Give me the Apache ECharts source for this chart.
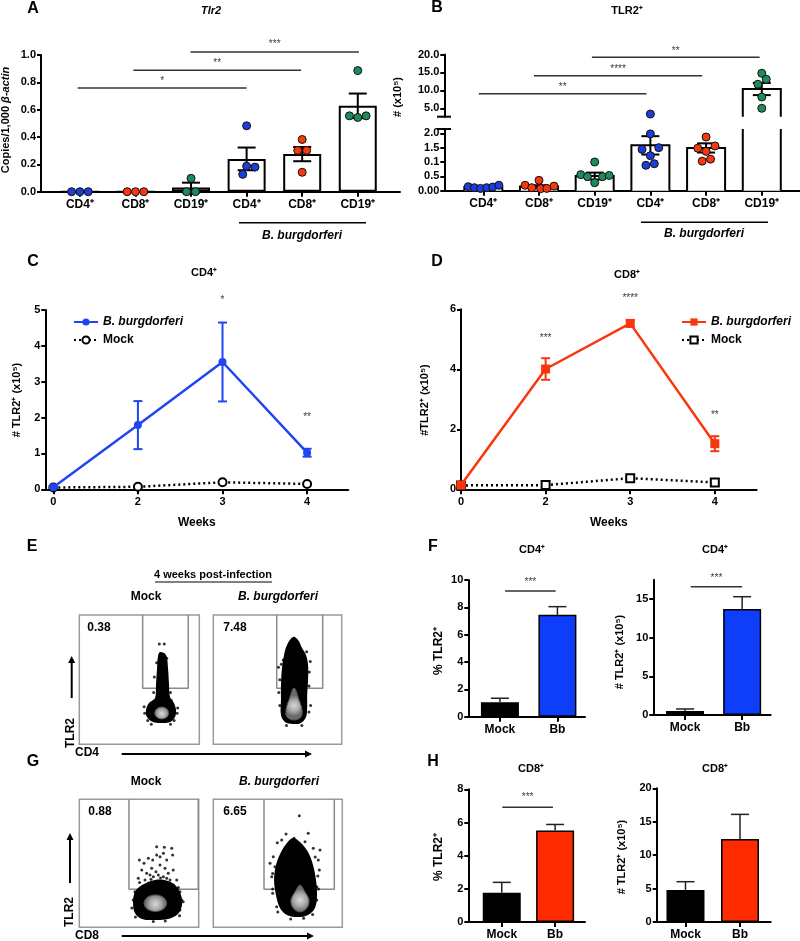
<!DOCTYPE html>
<html>
<head>
<meta charset="utf-8">
<script src="https://cdn.jsdelivr.net/npm/echarts@6.0.0/dist/echarts.min.js"></script>
<style>
  html, body { margin: 0; padding: 0; background: #fff; }
  #chart { width: 800px; height: 941px; }
</style>
</head>
<body>
<div id="chart"></div>
<script>
// Figure: TLR2 expression on lymphocytes after B. burgdorferi infection (panels A-H).

var FONT = '"Liberation Sans", Arial, Helvetica, sans-serif';
var BLUE = '#1d3cd8';
var LINE_BLUE = '#1f46f2';
var RED = '#f8370f';
var GREEN = '#1c8c5c';
var BAR_BLUE = '#0f3efa';
var BAR_RED = '#ff2b00';

// ---- A: Tlr2 copies / 1,000 b-actin
var aCats = ['CD4⁺', 'CD8⁺', 'CD19⁺', 'CD4⁺', 'CD8⁺', 'CD19⁺'];
var aMean = [0, 0, 0.03, 0.24, 0.275, 0.628];
var aSem = [0, 0, 0.036, 0.083, 0.052, 0.09];
var aDotsBlue = [[-0.15, 0], [0, 0], [0.15, 0], [2.93, 0.127], [3.0, 0.187], [3.15, 0.18], [3.0, 0.482]];
var aDotsRed = [[0.85, 0], [1, 0], [1.15, 0], [4, 0.142], [3.92, 0.302], [4.08, 0.302], [4, 0.382]];
var aDotsGreen = [[1.92, 0], [2.08, 0], [2, 0.098], [4.85, 0.555], [5, 0.543], [5.15, 0.555], [5, 0.886]];
// [x1, x2, y, stars, starY]
var aSig = [[-0.04, 3.0, 0.759, '*', 0.81], [0.96, 3.98, 0.888, '**', 0.94], [1.99, 5.02, 1.022, '***', 1.075]];
var aTicks = [0, 0.2, 0.4, 0.6, 0.8, 1.0];

// ---- B: TLR2+ counts (x10^5), broken axis
var bMean = [0.12, 0.15, 0.51, 1.58, 1.49, 10.38];
var bSem = [0.03, 0.04, 0.12, 0.32, 0.16, 1.7];
var bDotsBlue = [[-0.27, 0.14], [-0.16, 0.105], [-0.05, 0.08], [0.06, 0.105], [0.17, 0.13], [0.28, 0.19],
  [3, 1.98], [2.85, 1.44], [3.15, 1.5], [3, 1.22], [2.92, 0.885], [3.07, 0.94], [3, 3.4]];
var bDotsRed = [[0.75, 0.19], [0.87, 0.105], [1.0, 0.36], [1.03, 0.07], [1.14, 0.08], [1.27, 0.16],
  [4, 1.87], [3.85, 1.48], [4.16, 1.56], [4, 1.37], [3.93, 1.03], [4.08, 1.1]];
var bDotsGreen = [[1.75, 0.56], [1.87, 0.49], [2, 1.0], [2, 0.28], [2.14, 0.49], [2.26, 0.53],
  [5, 14.76], [5.08, 13.09], [4.93, 11.69], [5, 8.15], [5, 5.0]];
var bSig = [[-0.08, 2.93, 9.07, '**', 10.9], [0.91, 3.93, 14.09, '****', 15.9], [1.95, 4.96, 19.22, '**', 21.0]];
var bUpperTicks = [5, 10, 15, 20];
var bLowerTicks = [0, 0.5, 1, 1.5, 2];
var bLowerTickLabels = ['0.00', '0.5', '0.1', '1.5', '2.0'];
var bLowMax = 2.15;
var bHighMin = 2.66;

// ---- C / D: time course
var weeks = ['0', '2', '3', '4'];
var cBbMean = [0.06, 1.79, 3.55, 1.02];
var cBbSem = [0.02, 0.67, 1.1, 0.11];
var cMock = [0.05, 0.07, 0.195, 0.15];
var cStars = [[2, 5.28, '*'], [3, 2.0, '**']];
var dBbMean = [0.14, 4.01, 5.53, 1.52];
var dBbSem = [0.03, 0.36, 0.11, 0.25];
var dMock = [0.13, 0.14, 0.37, 0.23];
var dStars = [[1, 5.05, '***'], [2, 6.38, '****'], [3, 2.48, '**']];

// ---- F / H: 4 weeks post-infection
var groups = ['Mock', 'Bb'];
var fPctMean = [1.05, 7.45];
var fPctSem = [0.3, 0.6];
var fNumMean = [0.52, 13.7];
var fNumSem = [0.26, 1.6];
var hPctMean = [1.76, 5.51];
var hPctSem = [0.63, 0.37];
var hNumMean = [4.8, 12.4];
var hNumSem = [1.23, 3.7];
var fPctSig = [[0.09, 0.97, 9.2, '***', 9.85]];
var fNumSig = [[0.1, 1.0, 16.6, '***', 17.7]];
var hPctSig = [[0.01, 0.96, 6.92, '***', 7.55]];

// ---- E / G: flow plots (plot units 0-100 on both axes)
var eMockGate = [[52.8, 100], [52.8, 43.3], [90.8, 43.3], [90.8, 100]];
var eMockCloud = [[67.3, 71.4], [72.3, 69.1], [73.9, 59.0], [74.8, 45.9], [75.6, 36.6], [78.9, 31.9], [80.6, 26.5],
  [79.8, 21.1], [75.6, 17.2], [68.9, 16.5], [61.4, 17.2], [56.4, 21.1], [55.6, 26.5], [58.1, 31.9],
  [63.1, 35.8], [63.9, 45.9], [64.8, 59.0], [65.6, 68.3]];
var eMockCore = [[68.7, 28.8], [72.8, 27.5], [74.5, 24.2], [72.8, 20.9], [68.7, 19.6], [64.6, 20.9], [62.9, 24.2], [64.6, 27.5]];
var eMockDots = [[66.7, 77.5], [70.8, 77.5], [64.5, 63.1], [72.8, 66.5], [71.4, 58.0], [62.5, 52.0], [76.0, 40.0],
  [54.5, 24], [81.5, 24], [57, 18.5], [79, 18.5], [60, 15.5], [76, 15.5], [82, 28], [54, 29], [62, 40], [76.5, 34]];

var eBbGate = [[49.4, 100], [49.4, 43.3], [85.2, 43.3], [85.2, 100]];
var eBbCloud = [[62.1, 83.0], [66.0, 80.7], [69.1, 74.5], [72.2, 69.1], [73.8, 61.3], [73.8, 49.7], [73.1, 38.1],
  [73.1, 28.1], [72.2, 21.1], [68.3, 16.5], [62.1, 15.7], [55.8, 17.2], [52.7, 22.6], [52.7, 34.3],
  [52.7, 45.9], [53.5, 59.0], [55.1, 69.1], [57.4, 76.8]];
var eBbCore = [[62.9, 43.5], [66.8, 34.3], [69.1, 26.5], [68.3, 21.1], [62.9, 18.8], [57.4, 21.1], [56.6, 26.5], [58.9, 34.3]];
var eBbDots = [[54.5, 65.2], [50.8, 59.6], [59.7, 78.1], [72.7, 71.6], [75.5, 64.0], [51.0, 40.0], [75.8, 30.0],
  [51.8, 30], [51.8, 50], [74.5, 45], [74.5, 25], [53, 62], [74.8, 56], [57, 14.5], [69, 14.5]];

var gMockGate = [[41.6, 100], [41.6, 29.7], [99.6, 29.7], [99.6, 100]];
var gMockCloud = [[63.4, 37.0], [74.3, 36.2], [81.0, 32.3], [85.2, 25.2], [86.0, 17.4], [82.7, 10.4], [74.3, 6.5],
  [63.4, 5.7], [52.5, 6.5], [46.6, 11.2], [45.0, 19.0], [46.6, 27.6], [52.5, 33.0]];
var gMockCore = [[63.7, 25.3], [70.4, 23.4], [73.2, 18.8], [70.4, 14.2], [63.7, 12.3], [57.0, 14.2], [54.2, 18.8], [57.0, 23.4]];
var gMockDots = [[50.3, 52.6], [54.2, 50.0], [57.8, 53.9], [61.5, 52.6], [64.8, 56.5], [67.6, 55.2], [70.4, 57.8],
  [73.2, 52.6], [77.4, 61.7], [78.2, 56.5], [52.3, 44.8], [56.4, 42.2], [60.6, 46.1], [64.2, 43.4],
  [67.6, 48.7], [71.8, 46.1], [74.5, 42.2], [78.7, 44.8], [49.4, 38.3], [55.0, 37.0], [62.0, 39.5],
  [70.4, 39.5], [76.0, 37.0], [81.6, 37.0], [84.3, 27.8], [46.6, 27.8], [45.2, 21.3], [85.8, 21.3],
  [84.3, 13.5], [59.2, 40.9], [66.2, 40.9], [73.2, 38.3], [57.8, 34.4], [78.7, 33.0], [64.8, 63.0], [71.2, 62.5],
  [44, 15], [87, 20], [47, 8], [84, 9], [62, 4.5], [72, 5], [50.5, 35], [60, 37.5], [68, 38.5], [83, 31]];

var gBbGate = [[39.3, 100], [39.3, 29.7], [93.8, 29.7], [93.8, 100]];
var gBbCloud = [[61.8, 69.8], [67.2, 66.6], [73.4, 58.8], [77.3, 48.7], [79.6, 37.0], [80.4, 25.3], [78.8, 15.1],
  [73.4, 9.6], [65.7, 8.0], [57.1, 9.6], [51.7, 15.1], [48.6, 25.3], [47.1, 37.0], [48.6, 48.7],
  [52.5, 58.8], [57.1, 65.9]];
var gBbCore = [[67.2, 33.0], [71.1, 27.6], [74.2, 21.4], [72.6, 15.1], [67.2, 12.0], [61.8, 15.1], [60.2, 21.4], [63.3, 27.6]];
var gBbDots = [[66.7, 87.2], [56.4, 72.9], [62.6, 69.5], [49.6, 66.1], [53.0, 68.2], [73.6, 73.4], [71.1, 66.9],
  [77.5, 61.7], [81.4, 52.6], [82.7, 60.4], [46.5, 55.2], [47.8, 47.3], [45.3, 39.5], [46.0, 26.6],
  [82.2, 44.8], [80.2, 31.7], [80.2, 21.3], [49.1, 16.1],
  [46, 30], [46, 42], [81.5, 30], [81, 40], [50, 12], [77, 10], [60, 6.5], [70, 7], [44, 50], [79, 55]];

function isPlainObject(o) {
  return o !== null && typeof o === 'object' && !Array.isArray(o);
}

function deepMerge(base, extra) {
  if (!extra) return base;
  var out = Object.assign({}, base);
  Object.keys(extra).forEach(function (k) {
    if (isPlainObject(extra[k]) && isPlainObject(out[k])) out[k] = deepMerge(out[k], extra[k]);
    else out[k] = extra[k];
  });
  return out;
}

var AXLINE = { show: true, onZero: false, lineStyle: { color: '#000', width: 2 } };

function yVal(gi, min, max, extra) {
  return deepMerge({
    type: 'value', gridIndex: gi, min: min, max: max,
    axisLine: AXLINE,
    axisTick: { show: true, length: 4, lineStyle: { color: '#000', width: 2 } },
    axisLabel: { color: '#000', fontFamily: FONT, fontWeight: 'bold', fontSize: 11, margin: 5 },
    splitLine: { show: false }
  }, extra);
}

function xCat(gi, min, max, labels, extra) {
  var vals = labels.map(function (_, i) { return i; });
  return deepMerge({
    type: 'value', gridIndex: gi, min: min, max: max,
    axisLine: { show: true, onZero: true, lineStyle: { color: '#000', width: 2 } },
    axisTick: { show: true, length: 5, customValues: vals, lineStyle: { color: '#000', width: 2 } },
    axisLabel: {
      customValues: vals, color: '#000', fontFamily: FONT, fontWeight: 'bold', fontSize: 12, margin: 7,
      formatter: function (v) { return labels[Math.round(v)] || ''; }
    },
    splitLine: { show: false }
  }, extra);
}

function hiddenAxis(gi, min, max) {
  return { type: 'value', gridIndex: gi, min: min, max: max, show: false };
}

function pairs(arr) {
  return arr.map(function (v, i) { return [i, v]; });
}

function triples(mean, sem) {
  return mean.map(function (m, i) { return [i, m, sem[i]]; });
}

function errSeries(gi, data, cap, twoSided, color, width) {
  return {
    type: 'custom', xAxisIndex: gi, yAxisIndex: gi, z: 6, silent: true,
    data: data,
    renderItem: function (params, api) {
      var x = api.value(0), m = api.value(1), s = api.value(2);
      if (!s) return null;
      var hi = api.coord([x, m + s]);
      var lo = api.coord([x, twoSided ? m - s : m]);
      var st = { stroke: color, lineWidth: width || 2 };
      var kids = [
        { type: 'line', shape: { x1: hi[0], y1: hi[1], x2: lo[0], y2: lo[1] }, style: st },
        { type: 'line', shape: { x1: hi[0] - cap / 2, y1: hi[1], x2: hi[0] + cap / 2, y2: hi[1] }, style: st }
      ];
      if (twoSided) {
        kids.push({ type: 'line', shape: { x1: lo[0] - cap / 2, y1: lo[1], x2: lo[0] + cap / 2, y2: lo[1] }, style: st });
      }
      return { type: 'group', children: kids };
    }
  };
}

function dotSeries(gi, data, color) {
  return {
    type: 'scatter', xAxisIndex: gi, yAxisIndex: gi, z: 7, silent: true,
    data: data, symbolSize: 8,
    itemStyle: { color: color, borderColor: '#111', borderWidth: 1, opacity: 1 }
  };
}

function sigSeries(gi, sig) {
  var out = sig.map(function (s) {
    return {
      type: 'line', xAxisIndex: gi, yAxisIndex: gi, clip: false, silent: true, z: 4,
      data: [[s[0], s[2]], [s[1], s[2]]], symbol: 'none',
      lineStyle: { color: '#333', width: 1.5 }
    };
  });
  out.push(starSeries(gi, sig.map(function (s) { return [(s[0] + s[1]) / 2, s[4], s[3]]; })));
  return out;
}

function starSeries(gi, stars) {
  return {
    type: 'scatter', xAxisIndex: gi, yAxisIndex: gi, clip: false, silent: true, z: 8,
    symbolSize: 1, itemStyle: { color: 'rgba(0,0,0,0)' },
    data: stars.map(function (s) { return { value: [s[0], s[1]], name: s[2] }; }),
    label: {
      show: true, position: 'inside', color: '#000', fontFamily: FONT, fontSize: 10,
      formatter: function (p) { return p.name; }
    }
  };
}

// B bars are drawn open where the axis is broken
function brokenBarSeries(gi, lo, hi) {
  return {
    type: 'custom', xAxisIndex: gi, yAxisIndex: gi, z: 3, silent: true,
    data: pairs(bMean),
    renderItem: function (params, api) {
      var x = api.value(0), m = api.value(1);
      if (m <= lo) return null;
      var top = api.coord([x, Math.min(m, hi)]);
      var bot = api.coord([x, lo]);
      var w = 19;
      var st = { stroke: '#000', lineWidth: 2, fill: null };
      var kids = [{ type: 'rect', shape: { x: top[0] - w, y: top[1], width: 2 * w, height: bot[1] - top[1] }, style: { fill: '#fff' } }];
      if (m > hi) {
        kids.push({ type: 'line', shape: { x1: top[0] - w, y1: top[1], x2: top[0] - w, y2: bot[1] }, style: st });
        kids.push({ type: 'line', shape: { x1: top[0] + w, y1: top[1], x2: top[0] + w, y2: bot[1] }, style: st });
      } else {
        kids.push({ type: 'polyline', shape: { points: [[top[0] - w, bot[1]], [top[0] - w, top[1]], [top[0] + w, top[1]], [top[0] + w, bot[1]]] }, style: st });
      }
      return { type: 'group', children: kids };
    }
  };
}

function polySeries(gi, poly, fill, stroke) {
  return {
    type: 'custom', xAxisIndex: gi, yAxisIndex: gi, silent: true, z: 3,
    data: [0],
    renderItem: function (params, api) {
      var pts = poly.map(function (p) { return api.coord(p); });
      return { type: 'polygon', shape: { points: pts, smooth: 0.35 }, style: { fill: fill, stroke: stroke || null, lineWidth: 1 } };
    }
  };
}

function flowSeries(gi, gate, cloud, core, dots) {
  var coreFill = {
    type: 'radial', x: 0.5, y: 0.55, r: 0.6,
    colorStops: [{ offset: 0, color: '#d8d8d8' }, { offset: 0.55, color: '#a8a8a8' }, { offset: 1, color: '#6a6a6a' }]
  };
  return [
    { type: 'line', xAxisIndex: gi, yAxisIndex: gi, silent: true, data: gate, symbol: 'none', z: 2,
      lineStyle: { color: '#8a8a8a', width: 1.5 } },
    polySeries(gi, cloud, '#000'),
    polySeries(gi, core, coreFill, '#555'),
    { type: 'scatter', xAxisIndex: gi, yAxisIndex: gi, silent: true, data: dots, symbolSize: 3, z: 4,
      itemStyle: { color: '#000' } }
  ];
}

function barSeries(gi, mean, colors) {
  return {
    type: 'bar', xAxisIndex: gi, yAxisIndex: gi, barWidth: 38, z: 3, silent: true,
    data: mean.map(function (m, i) {
      return { value: [i, m], itemStyle: { color: colors[i] } };
    }),
    itemStyle: { borderColor: '#000', borderWidth: 1.5 }
  };
}

var flowGrid = { show: true, borderColor: '#9a9a9a', borderWidth: 1.5, backgroundColor: 'transparent' };

var grid = [
  { left: 41, top: 55, width: 359, height: 136.7 },
  { left: 444.3, top: 54.5, width: 355.7, height: 62.2 },
  { left: 444.3, top: 129, width: 355.7, height: 61.7 },
  { left: 45.3, top: 310, width: 303, height: 179.3 },
  { left: 461, top: 309.3, width: 295.7, height: 180 },
  { left: 468.3, top: 580, width: 116.7, height: 136.7 },
  { left: 653.3, top: 579.7, width: 117.4, height: 135.3 },
  { left: 468.3, top: 789.3, width: 116.7, height: 135.7 },
  { left: 656.7, top: 788.3, width: 114, height: 136 },
  deepMerge(flowGrid, { left: 79.3, top: 615, width: 120, height: 129.3 }),
  deepMerge(flowGrid, { left: 213.3, top: 615, width: 128.4, height: 129.3 }),
  deepMerge(flowGrid, { left: 79.3, top: 799.3, width: 119.4, height: 128 }),
  deepMerge(flowGrid, { left: 213.3, top: 799.3, width: 129, height: 128 })
];

var weeksName = {
  name: 'Weeks', nameLocation: 'middle', nameGap: 27,
  nameTextStyle: { color: '#000', fontFamily: FONT, fontWeight: 'bold', fontSize: 12 }
};

var xAxis = [
  xCat(0, -0.7, 5.76, aCats),
  hiddenAxis(1, -0.7, 5.686),
  xCat(2, -0.7, 5.686, aCats),
  xCat(3, -0.095, 3.487, weeks, deepMerge(weeksName, { axisLabel: { fontSize: 11 } })),
  xCat(4, 0, 3.495, weeks, deepMerge(weeksName, { axisLabel: { fontSize: 11 } })),
  xCat(5, -0.55, 1.48, groups),
  xCat(6, -0.556, 1.5, groups),
  xCat(7, -0.627, 1.56, groups),
  xCat(8, -0.528, 1.563, groups),
  hiddenAxis(9, 0, 100), hiddenAxis(10, 0, 100), hiddenAxis(11, 0, 100), hiddenAxis(12, 0, 100)
];

var yAxis = [
  yVal(0, 0, 1, { axisTick: { customValues: aTicks }, axisLabel: { customValues: aTicks, formatter: function (v) { return v.toFixed(1); } } }),
  yVal(1, bHighMin, 20, { axisTick: { customValues: bUpperTicks }, axisLabel: { customValues: bUpperTicks, formatter: function (v) { return v.toFixed(1); } } }),
  yVal(2, 0, bLowMax, { axisTick: { customValues: bLowerTicks }, axisLabel: { customValues: bLowerTicks, formatter: function (v) { return bLowerTickLabels[bLowerTicks.indexOf(v)]; } } }),
  yVal(3, 0, 5, { interval: 1 }),
  yVal(4, 0, 6, { interval: 2 }),
  yVal(5, 0, 10, { interval: 2 }),
  yVal(6, 0, 17.5, { axisTick: { customValues: [0, 5, 10, 15] }, axisLabel: { customValues: [0, 5, 10, 15] } }),
  yVal(7, 0, 8, { interval: 2 }),
  yVal(8, 0, 20, { interval: 5 }),
  hiddenAxis(9, 0, 100), hiddenAxis(10, 0, 100), hiddenAxis(11, 0, 100), hiddenAxis(12, 0, 100)
];

var series = [];

// A
series.push({
  type: 'bar', xAxisIndex: 0, yAxisIndex: 0, barWidth: 38, z: 3, silent: true,
  data: pairs(aMean), itemStyle: { color: '#fff', borderColor: '#000', borderWidth: 2 }
});
series.push(errSeries(0, triples(aMean, aSem), 18, true, '#000'));
series.push(dotSeries(0, aDotsBlue, BLUE), dotSeries(0, aDotsRed, RED), dotSeries(0, aDotsGreen, GREEN));
series = series.concat(sigSeries(0, aSig));

// B (upper = 1, lower = 2)
series.push(brokenBarSeries(1, bHighMin, 20), brokenBarSeries(2, 0, bLowMax));
var bErr = triples(bMean, bSem);
series.push(errSeries(1, bErr.filter(function (d) { return d[1] > bLowMax; }), 18, true, '#000'));
series.push(errSeries(2, bErr.filter(function (d) { return d[1] <= bLowMax; }), 18, true, '#000'));
[[bDotsBlue, BLUE], [bDotsRed, RED], [bDotsGreen, GREEN]].forEach(function (g) {
  series.push(dotSeries(1, g[0].filter(function (d) { return d[1] > bLowMax; }), g[1]));
  series.push(dotSeries(2, g[0].filter(function (d) { return d[1] <= bLowMax; }), g[1]));
});
series = series.concat(sigSeries(1, bSig));

// C
series.push({
  name: 'cBb', type: 'line', xAxisIndex: 3, yAxisIndex: 3, data: pairs(cBbMean), z: 5,
  symbol: 'circle', symbolSize: 8, itemStyle: { color: LINE_BLUE }, lineStyle: { color: LINE_BLUE, width: 2.5 }
});
series.push(errSeries(3, triples(cBbMean, cBbSem), 9, true, LINE_BLUE));
series.push({
  name: 'cMock', type: 'line', xAxisIndex: 3, yAxisIndex: 3, data: pairs(cMock), z: 4,
  symbol: 'emptyCircle', symbolSize: 8, itemStyle: { color: '#000', borderColor: '#000', borderWidth: 2 },
  lineStyle: { color: '#000', width: 2.5, type: [2, 3] }
});
series.push(starSeries(3, cStars));

// D
series.push({
  name: 'dBb', type: 'line', xAxisIndex: 4, yAxisIndex: 4, data: pairs(dBbMean), z: 5,
  symbol: 'rect', symbolSize: 9, itemStyle: { color: RED }, lineStyle: { color: RED, width: 2.5 }
});
series.push(errSeries(4, triples(dBbMean, dBbSem), 9, true, RED));
series.push({
  name: 'dMock', type: 'line', xAxisIndex: 4, yAxisIndex: 4, data: pairs(dMock), z: 4,
  symbol: 'emptyRect', symbolSize: 8, itemStyle: { color: '#000', borderColor: '#000', borderWidth: 2 },
  lineStyle: { color: '#000', width: 2.5, type: [2, 3] }
});
series.push(starSeries(4, dStars));

// F, H
series.push(barSeries(5, fPctMean, ['#000', BAR_BLUE]), errSeries(5, triples(fPctMean, fPctSem), 18, false, '#222', 1.5));
series.push(barSeries(6, fNumMean, ['#000', BAR_BLUE]), errSeries(6, triples(fNumMean, fNumSem), 18, false, '#222', 1.5));
series.push(barSeries(7, hPctMean, ['#000', BAR_RED]), errSeries(7, triples(hPctMean, hPctSem), 18, false, '#222', 1.5));
series.push(barSeries(8, hNumMean, ['#000', BAR_RED]), errSeries(8, triples(hNumMean, hNumSem), 18, false, '#222', 1.5));
series = series.concat(sigSeries(5, fPctSig), sigSeries(6, fNumSig), sigSeries(7, hPctSig));

// E, G flow plots
series = series.concat(
  flowSeries(9, eMockGate, eMockCloud, eMockCore, eMockDots),
  flowSeries(10, eBbGate, eBbCloud, eBbCore, eBbDots),
  flowSeries(11, gMockGate, gMockCloud, gMockCore, gMockDots),
  flowSeries(12, gBbGate, gBbCloud, gBbCore, gBbDots)
);

var legendLabels = { cBb: '{i|B. burgdorferi}', cMock: 'Mock', dBb: '{i|B. burgdorferi}', dMock: 'Mock' };
var legendBase = {
  orient: 'vertical', itemWidth: 24, itemHeight: 9, itemGap: 6, selectedMode: false,
  formatter: function (n) { return legendLabels[n]; },
  textStyle: {
    color: '#000', fontFamily: FONT, fontWeight: 'bold', fontSize: 12,
    rich: { i: { fontStyle: 'italic', fontWeight: 'bold', fontFamily: FONT, fontSize: 12, color: '#000' } }
  }
};

// ---- annotation text (panel letters, titles, axis names)
function txt(x, y, text, size, extra) {
  return deepMerge({
    type: 'text', x: x, y: y, silent: true,
    style: {
      text: text, fill: '#000', align: 'center', verticalAlign: 'middle',
      font: 'bold ' + size + 'px ' + FONT,
      rich: {
        i: { fontStyle: 'italic', fontWeight: 'bold', fontSize: size, fontFamily: FONT },
        n: { fontWeight: 'bold', fontSize: size, fontFamily: FONT }
      }
    }
  }, extra);
}
function vtxt(x, y, text, size) {
  return txt(x, y, text, size, { rotation: Math.PI / 2 });
}
function hline(x1, x2, y, w, c) {
  return { type: 'line', silent: true, shape: { x1: x1, y1: y, x2: x2, y2: y }, style: { stroke: c || '#000', lineWidth: w || 1.5 } };
}
function arrowUp(x, y1, y2) {
  return [
    { type: 'line', silent: true, shape: { x1: x, y1: y1, x2: x, y2: y2 + 6 }, style: { stroke: '#000', lineWidth: 2 } },
    { type: 'polygon', silent: true, shape: { points: [[x - 3.5, y2 + 7], [x + 3.5, y2 + 7], [x, y2]] }, style: { fill: '#000' } }
  ];
}
function arrowRight(x1, x2, y) {
  return [
    { type: 'line', silent: true, shape: { x1: x1, y1: y, x2: x2 - 6, y2: y }, style: { stroke: '#000', lineWidth: 2 } },
    { type: 'polygon', silent: true, shape: { points: [[x2 - 7, y - 3.5], [x2 - 7, y + 3.5], [x2, y]] }, style: { fill: '#000' } }
  ];
}

var graphic = [
  txt(33, 9, 'A', 16), txt(437, 8, 'B', 16), txt(33, 262, 'C', 16), txt(437, 262, 'D', 16),
  txt(32, 547, 'E', 16), txt(433, 547, 'F', 16), txt(33, 762, 'G', 16), txt(433, 762, 'H', 16),
  txt(211, 11, '{i|Tlr2}', 11), txt(627, 11, 'TLR2⁺', 11),
  txt(204, 273, 'CD4⁺', 11), txt(627, 275, 'CD8⁺', 11),
  txt(532, 550, 'CD4⁺', 11), txt(715, 550, 'CD4⁺', 11),
  txt(531, 769, 'CD8⁺', 11), txt(715, 769, 'CD8⁺', 11),
  vtxt(6, 120, '{n|Copies/1,000 }{i|β-actin}', 11),
  vtxt(398, 97, '# (x10⁵)', 11),
  vtxt(17, 400, '# TLR2⁺ (x10⁵)', 11),
  vtxt(425, 400, '#TLR2⁺ (x10⁵)', 11),
  vtxt(439, 651, '% TLR2⁺', 12),
  vtxt(620, 652, '# TLR2⁺ (x10⁵)', 11),
  vtxt(439, 857, '% TLR2⁺', 12),
  vtxt(622, 857, '# TLR2⁺ (x10⁵)', 11),
  hline(239, 366, 222.7, 1.5), txt(302, 236, '{i|B. burgdorferi}', 12),
  hline(641, 768, 222.3, 1.5), txt(704, 234, '{i|B. burgdorferi}', 12),
  hline(437, 451, 116.7, 2), hline(437, 451, 129, 2),
  txt(213, 575, '4 weeks post-infection', 11), hline(155, 272, 582, 1),
  txt(146, 597, 'Mock', 12), txt(278, 597, '{i|B. burgdorferi}', 12),
  txt(99, 628, '0.38', 12), txt(235, 628, '7.48', 12),
  vtxt(71, 733, 'TLR2', 12), txt(87, 753, 'CD4', 12),
  txt(146, 782, 'Mock', 12), txt(279, 782, '{i|B. burgdorferi}', 12),
  txt(100, 812, '0.88', 12), txt(235, 812, '6.65', 12),
  vtxt(70, 912, 'TLR2', 12), txt(87, 936, 'CD8', 12)
].concat(arrowUp(71.7, 698, 656), arrowRight(121.7, 312, 754), arrowUp(70, 883, 833), arrowRight(121.7, 314, 936));

var chart = echarts.init(document.getElementById('chart'), null, { renderer: 'canvas' });
chart.setOption({
  backgroundColor: '#fff',
  animation: false,
  textStyle: { fontFamily: FONT },
  grid: grid,
  xAxis: xAxis,
  yAxis: yAxis,
  legend: [
    deepMerge(legendBase, { data: ['cBb', 'cMock'], left: 68, top: 311 }),
    deepMerge(legendBase, { data: ['dBb', 'dMock'], left: 676, top: 311 })
  ],
  graphic: graphic,
  series: series
});
</script>
</body>
</html>
